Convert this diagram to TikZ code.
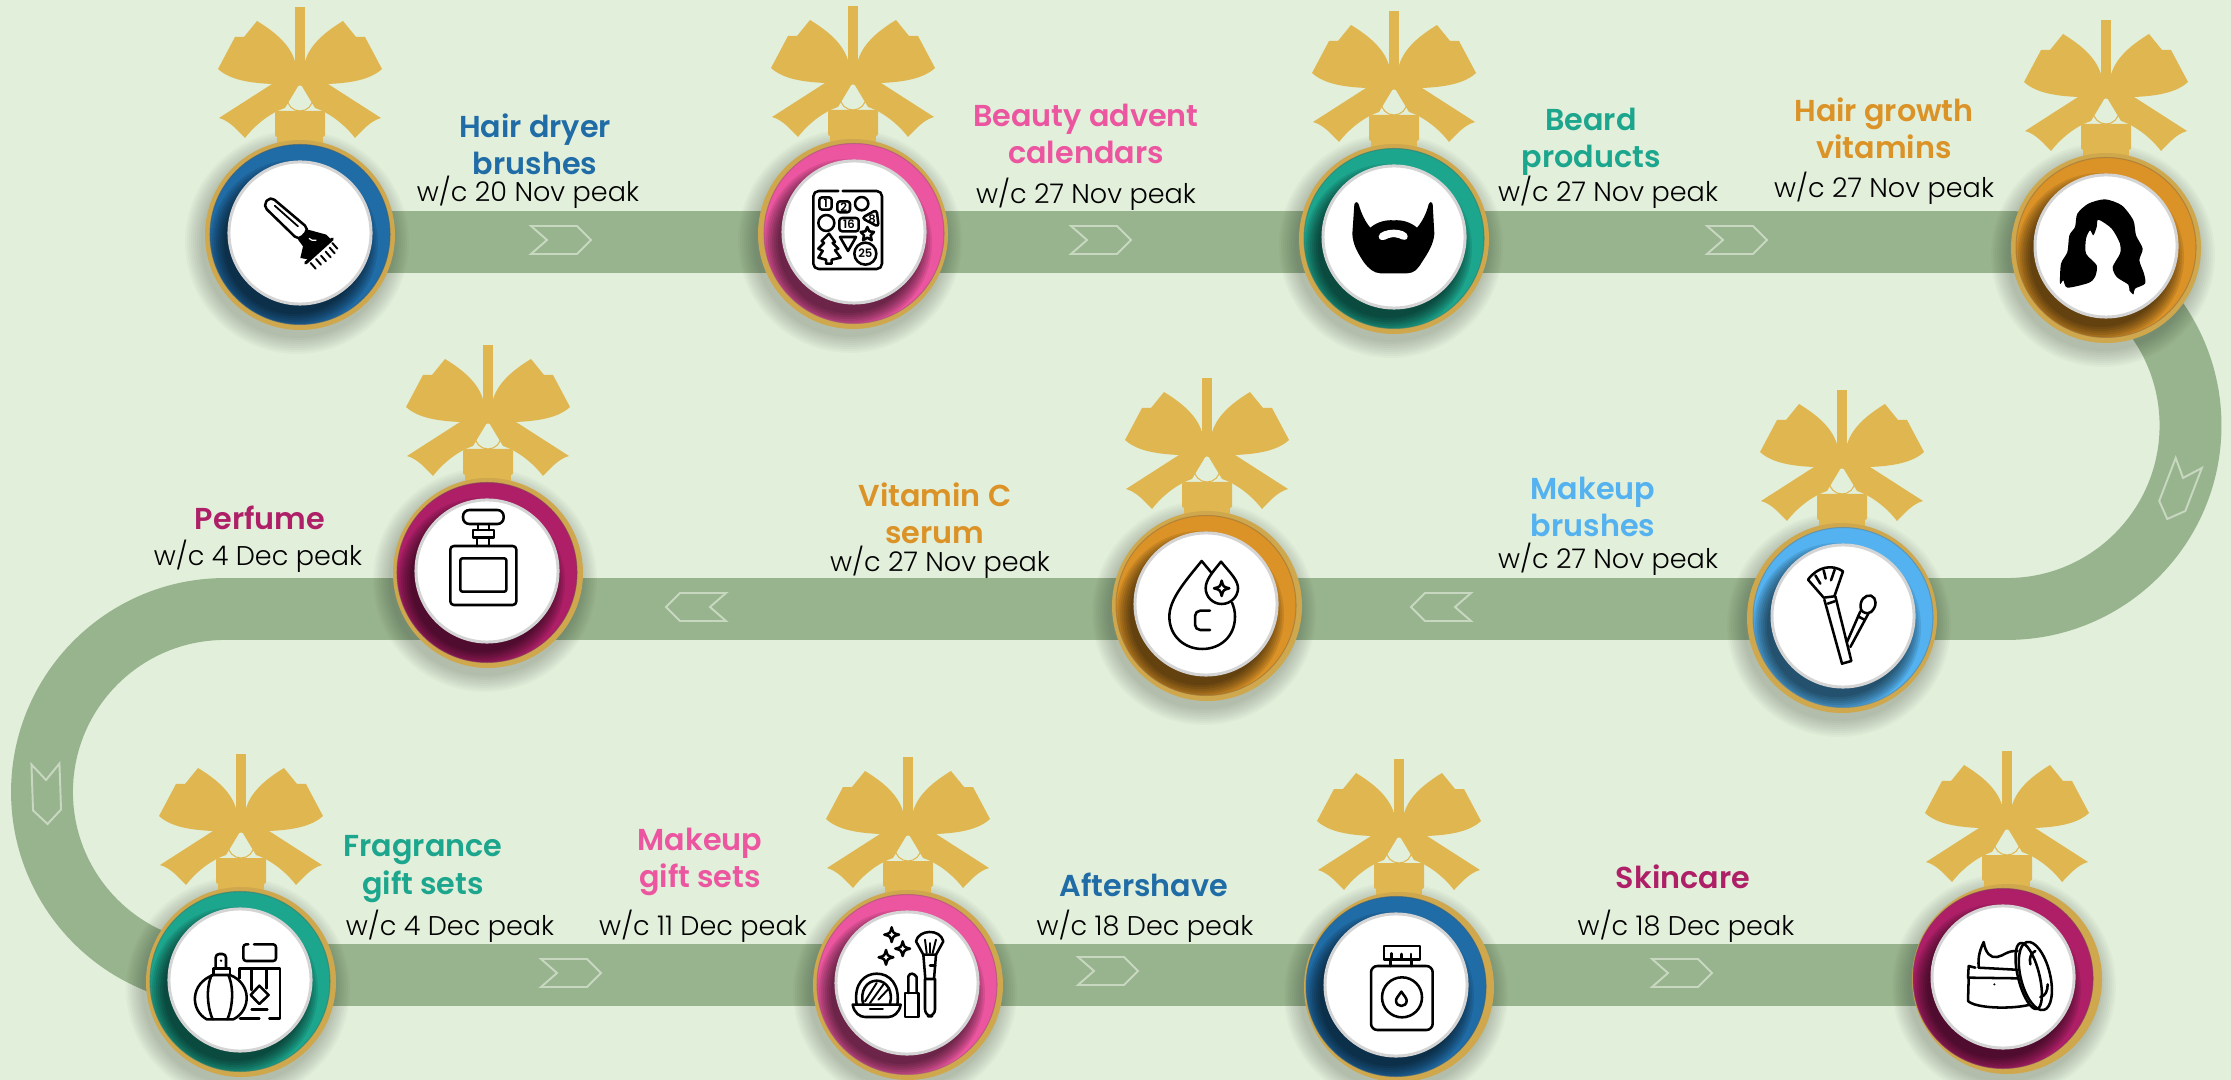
\documentclass[tikz,border=0pt]{standalone}
\usepackage{fontspec}
\setmainfont{Poppins}[UprightFont=* Light,BoldFont=* SemiBold]
\definecolor{bgc}{HTML}{E2EFDA}
\definecolor{roadc}{HTML}{98B48E}
\definecolor{chevc}{HTML}{C8D8C0}
\definecolor{goldc}{HTML}{E0B650}
\definecolor{rimc}{HTML}{CFA84E}
\definecolor{bluec}{HTML}{206CA6}
\definecolor{pinkc}{HTML}{EC559F}
\definecolor{tealc}{HTML}{1CA68D}
\definecolor{orangec}{HTML}{DB9226}
\definecolor{skyc}{HTML}{53B2EF}
\definecolor{magc}{HTML}{AE1F68}
\tikzset{
  road/.style={draw=roadc,line width=17.6pt},
  chevron/.style={draw=chevc,line width=.55pt,line join=miter},
  ico/.style={draw=black,line width=.72pt,line join=round,line cap=round},
  icof/.style={fill=black,draw=none},
  disc/.style={circle,fill=white,draw=black!17,line width=.85pt,minimum size=1.42cm,inner sep=0pt},
  titletext/.style={font=\fontsize{8.6}{10.6}\selectfont\bfseries,align=center,inner sep=0pt},
  subtext/.style={font=\fontsize{7.7}{9}\selectfont,text=black,inner sep=0pt},
  tiny/.style={font=\fontsize{3.3}{4}\selectfont\bfseries,inner sep=0pt}
}
\newcommand{\chev}[3]{\draw[chevron,shift={(#1,#2)},rotate=#3] (-30,-14)--(16,-14)--(30,0)--(16,14)--(-30,14)--(-14,0)--cycle;}
\newcommand{\bowhalf}{%
  \fill[goldc] (3,-162) .. controls (5,-180) and (15,-195) .. (43,-212) -- (56,-196) -- (65,-196) -- (82,-164)
     .. controls (70,-153) and (50,-150) .. (28,-149) -- (0,-148) -- (0,-162) -- cycle;
  \fill[goldc] (0,-150) -- (28,-149) -- (81,-115) .. controls (70,-112) and (62,-102) .. (55,-95)
     .. controls (45,-108) and (30,-120) .. (15,-125) -- cycle;
}
\newcommand{\ornament}[5]{% name x y dx colour
 \begin{scope}[shift={(#2,#3)}]
  \foreach \r in {96,98,...,112} \fill[black,opacity=.025] ({#4-3},9) circle (\r);
  \begin{scope}[shift={(#4,0)}]
    \fill[goldc] (-5,-226) rectangle (5,-155);
    \bowhalf
    \begin{scope}[xscale=-1]\bowhalf\end{scope}
    \fill[bgc] (0,-147) -- (13,-124) -- (-13,-124) -- cycle;
    \draw[goldc,line width=.3pt] (0,-135) circle (13);
    \fill[goldc,rounded corners=.6pt] (-25,-122) rectangle (25,-96);
    \fill[goldc] (-23,-98) rectangle (23,-85);
    \fill[rimc] (0,2) circle (95);
  \end{scope}
  \fill[#5] (0,1.5) circle (90);
  \begin{scope}
    \clip (0,1.5) circle (90);
    \foreach \r in {70,72,...,84} \fill[black,opacity=.09] (-6,11) circle (\r);
  \end{scope}
  \draw[#5!75!black!70!gray,line width=.3pt,opacity=.6] (0,1.5) circle (90);
  \node[disc] (#1) at (0,0) {};
 \end{scope}
}
\newcommand{\spark}[3]{\draw[ico,shift={(#1,#2)},scale=#3] (0,-1) .. controls (.2,-.2) .. (1,0) .. controls (.2,.2) .. (0,1) .. controls (-.2,.2) .. (-1,0) .. controls (-.2,-.2) .. (0,-1) -- cycle;}
\newcommand{\titletxt}[5]{\node[titletext,text=#4] (#1) at (#2,#3) {#5};}
\newcommand{\subtxt}[4]{\node[subtext] (#1) at (#2,#3) {#4};}
\begin{document}
\begin{tikzpicture}[x=.01cm,y=-.01cm]
\useasboundingbox (0,0) rectangle (2231,1080);
\fill[bgc] (0,0) rectangle (2231,1080);
\clip (0,0) rectangle (2231,1080);
% road
\coordinate (ra) at (300,242);
\coordinate (rb) at (2007,242);
\coordinate (rc) at (225,609);
\coordinate (rd) at (2003,975);
\draw[road] (ra) -- (rb) arc[start angle=-90,end angle=90,radius=183.5] -- (rc) arc[start angle=270,end angle=90,radius=183] -- (rd);
% chevrons
\chev{561}{240}{0}\chev{1101}{240}{0}\chev{1737}{240}{0}
\chev{2178}{491}{-111}
\chev{696}{607}{180}\chev{1441}{607}{180}
\chev{46.5}{794}{-88}
\chev{571}{973}{0}\chev{1108}{971}{0}\chev{1682}{973}{0}
% ornaments
\ornament{o1}{300}{233}{0}{bluec}
\ornament{o2}{854}{232}{-1}{pinkc}
\ornament{o3}{1394}{237}{0}{tealc}
\ornament{o4}{2106}{246}{0}{orangec}
\ornament{o5}{1843}{616}{-1}{skyc}
\ornament{o6}{1206}{604}{1}{orangec}
\ornament{o7}{487}{571}{1}{magc}
\ornament{o8}{240}{980}{1}{tealc}
\ornament{o9}{907}{983}{1}{pinkc}
\ornament{o10}{1396}{985}{3}{bluec}
\ornament{o11}{2003}{977}{4}{magc}
% icon 1 brush
\begin{scope}[shift={(o1)},scale=.3333,shift={(-361,-700)}]
 \draw[ico,rounded corners=1.5pt] (272,590) -- (388,688) -- (357,722) -- (250,618) -- cycle;
 \draw[ico,line width=.5pt] (285,618) -- (355,680);
 \fill[icof] (385,690) -- (440,705) -- (455,720) -- (390,780) -- (362,775) -- (370,740) -- (355,720) -- cycle;
 \draw[white,line width=.35pt] (388,716) .. controls (395,722) .. (410,722);
 \draw[ico,line width=.9pt] (378,790) -- (458,718);
 \foreach \a/\b in {393/790,409/778,424/768,438/756,450/744,458/730} \draw[ico,line width=.55pt] (\a,\b) -- ++(15,17);
\end{scope}
% icon 2 calendar
\begin{scope}[shift={(o2)},scale=.3333,shift={(-372,-335)}]
 \draw[ico,rounded corners=1.5pt] (325,212) -- (250,212) -- (250,446) -- (456,446) -- (456,212) -- (338,212);
 \draw[ico,rounded corners=.8pt] (268,231) rectangle (305,268);
 \node[tiny] (c1) at (287,250) {1};
 \draw[ico,rounded corners=.8pt] (322,243) rectangle (360,276);
 \node[tiny] (c2) at (341,260) {2};
 \draw[ico] (395,250) circle (20);
 \draw[ico] (289,308) circle (24);
 \draw[ico,rounded corners=.8pt] (328,293) rectangle (386,333);
 \node[tiny] (c16) at (357,313) {16};
 \draw[ico,rounded corners=1pt] (395,293) -- (440,268) -- (446,320) -- cycle;
 \node[tiny] (c8) at (426,296) {8};
 \draw[ico] (412,320) -- (418,333) -- (432,335) -- (422,345) -- (425,360) -- (412,352) -- (399,360) -- (402,345) -- (392,335) -- (406,333) -- cycle;
 \draw[ico] (297,340) -- (315,365) -- (308,368) -- (325,385) -- (315,390) -- (332,412) -- (305,418) -- (305,430) -- (288,430) -- (288,418) -- (265,412) -- (278,392) -- (265,385) -- (282,368) -- (275,362) -- cycle;
 \draw[ico] (330,350) -- (378,350) -- (354,392) -- cycle;
 \draw[ico] (406,400) circle (33);
 \node[tiny] (c25) at (406,400) {25};
\end{scope}
% icon 3 beard
\begin{scope}[shift={(o3)},scale=.3333,shift={(-281,-710)}]
 \fill[icof] (162,612) .. controls (165,603) and (172,604) .. (175,612) .. controls (183,640) and (195,665) .. (210,682)
   .. controls (230,665) and (255,658) .. (280,660) .. controls (305,658) and (330,665) .. (350,682)
   .. controls (365,665) and (378,640) .. (385,612) .. controls (388,604) and (395,603) .. (397,612)
   -- (402,700) .. controls (400,730) and (385,755) .. (365,785) .. controls (350,810) and (340,818) .. (320,819) -- (240,819)
   .. controls (220,818) and (205,805) .. (190,785) .. controls (170,755) and (157,730) .. (156,700) -- cycle;
 \fill[white] (235,708) .. controls (235,695) and (262,688) .. (280,688) .. controls (300,688) and (322,695) .. (322,708)
   .. controls (322,722) and (308,720) .. (295,713) .. controls (285,709) and (275,709) .. (265,713) .. controls (250,722) and (235,722) .. (235,708) -- cycle;
\end{scope}
% icon 4 hair
\begin{scope}[shift={(o4)},scale=.3333,shift={(-378,-377)}]
 \fill[icof] plot[smooth cycle,tension=.45] coordinates {(375,237) (425,255) (460,300) (468,345) (488,385) (478,420) (492,460) (495,490) (465,505) (460,522) (448,510) (445,493) (410,470) (398,440) (420,400) (420,370) (395,325) (355,298) (350,320) (340,345) (330,330) (318,355) (318,400) (350,435) (345,470) (325,488) (262,502) (250,480) (240,490) (243,430) (262,395) (268,345) (285,320) (292,280) (325,250)};
\end{scope}
% icon 5 brushes
\begin{scope}[shift={(o5)},scale=.3333,shift={(-308,-317)}]
 \draw[ico] (203,208) .. controls (230,170) and (275,160) .. (308,183) -- (282,258) -- (250,262) -- cycle;
 \draw[ico] (225,195) -- (240,220) (250,180) -- (256,205) (283,178) -- (272,210);
 \draw[ico] (252,268) -- (305,460) -- (333,452) -- (285,258);
 \draw[ico] (262,280) -- (283,273);
 \draw[ico] (362,298) .. controls (355,270) and (375,252) .. (392,256) .. controls (410,262) and (410,290) .. (392,305) .. controls (380,312) and (368,308) .. (362,298) -- cycle;
 \draw[ico] (360,303) -- (320,395) (385,308) -- (330,410);
 \draw[ico] (353,318) -- (372,328);
\end{scope}
% icon 6 drops
\begin{scope}[shift={(o6)},scale=.3333,shift={(-318,-312)}]
 \draw[ico] (334,218) -- (305,183) .. controls (250,250) and (208,300) .. (208,350) .. controls (208,410) and (255,447) .. (307,447) .. controls (360,447) and (405,410) .. (405,350) .. controls (405,335) and (402,322) .. (396,308);
 \draw[ico] (363,185) .. controls (335,220) and (317,240) .. (317,265) .. controls (317,290) and (338,312) .. (365,312) .. controls (392,312) and (414,290) .. (414,265) .. controls (414,240) and (390,218) .. (363,185) -- cycle;
 \spark{365}{265}{23}
 \draw[ico,rounded corners=1.5pt] (330,332) -- (285,332) -- (285,390) -- (330,390);
\end{scope}
% icon 7 perfume
\begin{scope}[shift={(o7)},scale=.3333,shift={(-322,-303)}]
 \draw[ico,rounded corners=1.8pt] (250,120) rectangle (372,162);
 \draw[ico] (295,162) -- (295,180) (328,162) -- (328,180);
 \draw[ico] (280,180) rectangle (343,203);
 \draw[ico] (292,203) -- (292,228) (328,203) -- (328,228);
 \draw[ico,rounded corners=1pt] (212,228) rectangle (410,405);
 \draw[ico,rounded corners=.6pt] (242,265) rectangle (380,365);
\end{scope}
% icon 8 fragrance
\begin{scope}[shift={(o8)},scale=.3333,shift={(-300,-300)}]
 \draw[ico] (200,418) .. controls (150,390) and (150,310) .. (220,285) -- (270,285) .. controls (335,310) and (335,390) .. (280,418) -- cycle;
 \draw[ico] (215,285) .. controls (195,330) and (205,390) .. (218,418) (265,285) .. controls (285,330) and (275,390) .. (262,418);
 \draw[ico] (220,265) rectangle (270,285);
 \draw[ico,rounded corners=1pt] (227,265) -- (227,222) -- (258,222) -- (258,265);
 \fill[icof] (243,242) circle (4);
 \draw[ico,rounded corners=.8pt] (325,193) -- (310,193) -- (310,243) -- (408,243) -- (408,193) -- (342,193);
 \draw[ico] (298,295) -- (298,265) -- (420,265) -- (420,415) -- (388,415);
 \draw[ico] (358,415) -- (300,415);
 \draw[ico] (335,265) -- (335,330) (380,265) -- (380,325);
 \draw[ico] (358,317) -- (386,345) -- (358,372) -- (332,345) -- cycle;
 \draw[ico] (335,388) -- (382,388);
\end{scope}
% icon 9 makeup
\begin{scope}[shift={(o9)},scale=.3333,shift={(-291,-310)}]
 \spark{245}{165}{22}\spark{278}{207}{22}\spark{228}{233}{22}
 \draw[ico] (140,375) .. controls (130,310) and (165,282) .. (200,282) .. controls (240,282) and (270,315) .. (262,375);
 \draw[ico] (160,375) .. controls (148,335) and (170,303) .. (200,303) .. controls (230,303) and (250,335) .. (240,372);
 \draw[ico,line width=.55pt] (165,365) -- (200,310) (180,370) -- (222,312) (205,360) -- (238,325);
 \draw[ico] (128,375) -- (272,375) .. controls (268,400) and (250,412) .. (235,412) -- (165,412) .. controls (150,412) and (132,400) .. (128,375) -- cycle;
 \draw[ico] (180,388) -- (218,388);
 \draw[ico] (285,340) rectangle (325,412);
 \draw[ico] (295,340) -- (295,290) .. controls (300,278) and (312,280) .. (320,292) -- (320,340);
 \draw[ico] (340,225) -- (318,185) .. controls (325,150) and (390,145) .. (400,185) -- (378,225) -- cycle;
 \draw[ico,line width=.55pt] (345,180) -- (350,220) (360,190) -- (360,220) (378,180) -- (368,220);
 \draw[ico] (340,225) -- (346,298) -- (372,298) -- (378,225);
 \draw[ico] (360,257) -- (376,257);
 \draw[ico,rounded corners=2pt] (345,298) -- (345,410) -- (375,410) -- (375,298);
\end{scope}
% icon 10 bottle
\begin{scope}[shift={(o10)},scale=.3333,shift={(-288,-315)}]
 \draw[ico] (252,198) rectangle (360,238);
 \draw[ico] (275,220) -- (275,238) (305,222) -- (305,238) (333,222) -- (333,238);
 \draw[ico] (272,238) -- (272,258) (335,238) -- (335,258);
 \draw[ico,rounded corners=1.8pt] (213,258) rectangle (398,450);
 \draw[ico] (306,352) circle (60);
 \draw[ico] (304,335) .. controls (295,348) and (288,355) .. (288,362) .. controls (288,372) and (296,378) .. (304,378) .. controls (312,378) and (320,372) .. (320,362) .. controls (320,355) and (313,348) .. (304,335) -- cycle;
\end{scope}
% icon 11 cream
\begin{scope}[shift={(o11)},scale=.3333,shift={(-308,-318)}]
 \draw[ico] (225,290) -- (205,285) -- (203,320) -- (355,322);
 \draw[ico] (205,320) -- (203,390) .. controls (225,412) and (330,415) .. (385,402);
 \draw[ico] (235,290) .. controls (232,255) and (240,235) .. (250,213) .. controls (255,245) and (270,262) .. (290,258) .. controls (310,255) and (320,238) .. (352,240);
 \draw[ico] (235,290) -- (345,296);
 \draw[ico,rotate around={14:(405,315)}] (405,315) ellipse (44 and 105);
 \draw[ico,rotate around={14:(385,315)}] (385,315) ellipse (32 and 102);
 \draw[ico] (390,280) .. controls (385,260) and (393,245) .. (405,240);
 \draw[ico] (442,340) .. controls (442,360) and (435,375) .. (420,378);
 \fill[icof] (282,340) circle (3.5);
\end{scope}
% labels
\titletxt{t1}{535}{144}{bluec}{Hair dryer\\brushes}
\subtxt{s1}{528}{192}{w/c 20 Nov peak}
\titletxt{t2}{1086}{134}{pinkc}{Beauty advent\\calendars}
\subtxt{s2}{1086}{194}{w/c 27 Nov peak}
\titletxt{t3}{1591}{142}{tealc}{Beard\\products}
\subtxt{s3}{1608}{192}{w/c 27 Nov peak}
\titletxt{t4}{1884}{128}{orangec}{Hair growth\\vitamins}
\subtxt{s4}{1884}{188}{w/c 27 Nov peak}
\titletxt{t5}{1593}{507}{skyc}{Makeup\\brushes}
\subtxt{s5}{1608}{559}{w/c 27 Nov peak}
\titletxt{t6}{935}{513}{orangec}{Vitamin C\\serum}
\subtxt{s6}{940}{562}{w/c 27 Nov peak}
\titletxt{t7}{260}{518}{magc}{Perfume}
\subtxt{s7}{258}{556}{w/c 4 Dec peak}
\titletxt{t8}{423}{869}{tealc}{Fragrance\\gift sets}
\subtxt{s8}{450}{926}{w/c 4 Dec peak}
\titletxt{t9}{700}{862}{pinkc}{Makeup\\gift sets}
\subtxt{s9}{703}{926}{w/c 11 Dec peak}
\titletxt{t10}{1144}{885}{bluec}{Aftershave}
\subtxt{s10}{1145}{926}{w/c 18 Dec peak}
\titletxt{t11}{1683}{877}{magc}{Skincare}
\subtxt{s11}{1686}{926}{w/c 18 Dec peak}
\end{tikzpicture}
\end{document}
